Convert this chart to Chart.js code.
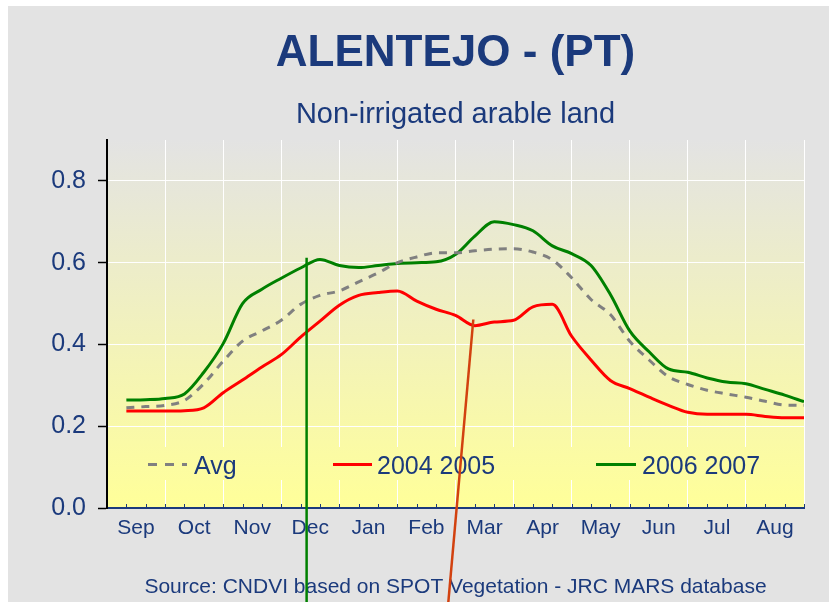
<!DOCTYPE html>
<html><head><meta charset="utf-8">
<script src="https://cdn.jsdelivr.net/npm/chart.js@4.4.1/dist/chart.umd.min.js"></script>
<style>html,body{margin:0;padding:0;background:#fff;}canvas{display:block;}</style>
</head><body>
<canvas id="c" width="829" height="602"></canvas>
<script>
// ---- data ----
const months = ['Sep','Oct','Nov','Dec','Jan','Feb','Mar','Apr','May','Jun','Jul','Aug'];
const dekads = [1,2,3,4,5,6,7,8,9,10,11,12,13,14,15,16,17,18,19,20,21,22,23,24,25,26,27,28,29,30,31,32,33,34,35,36];
const avg   = [0.245,0.248,0.251,0.263,0.304,0.359,0.408,0.433,0.459,0.498,0.520,0.531,0.553,0.575,0.600,0.614,0.624,0.624,
               0.629,0.633,0.634,0.626,0.607,0.563,0.510,0.473,0.408,0.362,0.321,0.302,0.288,0.279,0.271,0.261,0.252,0.251];
const y0405 = [0.237,0.237,0.237,0.238,0.245,0.282,0.313,0.345,0.375,0.418,0.457,0.496,0.520,0.527,0.531,0.506,0.486,0.471,
               0.446,0.455,0.459,0.492,0.498,0.420,0.362,0.312,0.292,0.271,0.251,0.234,0.229,0.229,0.229,0.224,0.221,0.221];
const y0607 = [0.264,0.265,0.268,0.279,0.332,0.402,0.500,0.535,0.562,0.587,0.608,0.593,0.588,0.593,0.598,0.600,0.602,0.620,
               0.665,0.700,0.693,0.678,0.641,0.622,0.593,0.522,0.433,0.382,0.340,0.332,0.318,0.308,0.304,0.290,0.276,0.260];
const seriesNames = ['Avg','2004 2005','2006 2007'];
const yTicks = [0,0.2,0.4,0.6,0.8];
const titleText = 'ALENTEJO - (PT)';
const subtitleText = 'Non-irrigated arable land';
const sourceText = 'Source: CNDVI based on SPOT Vegetation - JRC MARS database';
// hand-drawn marker lines (data units: dekad index, value)
const markerGreen = {x:10.31, y:0.612, xBottom:10.31};
const markerRed   = {x:18.92, y:0.461, xBottom:17.63};

// ---- style ----
const NAVY = '#1b3a7c';
const FONT = "'Liberation Sans', Arial, Helvetica, sans-serif";
const C_AVG = '#808080', C_RED = '#ff0000', C_GREEN = '#008000';

function pts(vals){ return vals.map((v,i)=>({x:dekads[i], y:v})); }

function plotGradient(ctx, a){
  const g = ctx.createLinearGradient(0, a.top, 0, a.bottom);
  g.addColorStop(0, '#e3e3e3');
  g.addColorStop(1, '#ffff99');
  return g;
}

const deco = {
  id: 'deco',
  beforeDraw(chart){
    const {ctx, chartArea:a, width, height} = chart;
    ctx.save();
    ctx.fillStyle = '#ffffff'; ctx.fillRect(0,0,width,height);
    ctx.fillStyle = '#e3e3e3'; ctx.fillRect(8,6,width-8,height-6);
    ctx.fillStyle = plotGradient(ctx,a);
    ctx.fillRect(a.left, a.top, a.right-a.left, a.bottom-a.top);
    const cx = (a.left + a.right)/2;
    ctx.fillStyle = NAVY; ctx.textAlign = 'center'; ctx.textBaseline = 'alphabetic';
    ctx.font = 'bold 44px ' + FONT; ctx.fillText(titleText, cx, 66);
    ctx.font = '29px ' + FONT; ctx.fillText(subtitleText, cx, 123);
    ctx.font = '21px ' + FONT; ctx.fillText(sourceText, cx, 593);
    ctx.restore();
  },
  afterDatasetsDraw(chart){
    const {ctx, chartArea:a} = chart;
    const xs = chart.scales.xd;
    ctx.save();
    // legend box inside plot
    const top = a.bottom - 61, bot = a.bottom - 28;
    ctx.fillStyle = plotGradient(ctx,a);
    ctx.fillRect(a.left+1, top, a.right-a.left-1, bot-top);
    const ly = a.bottom - 43.5;
    const items = [
      {name:seriesNames[0], color:C_AVG, dash:[9,8], x1:41, x2:80, tx:87},
      {name:seriesNames[1], color:C_RED, dash:[], x1:226, x2:265, tx:270},
      {name:seriesNames[2], color:C_GREEN, dash:[], x1:489, x2:529, tx:535}
    ];
    ctx.font = '25px ' + FONT; ctx.textAlign = 'left'; ctx.textBaseline = 'alphabetic';
    items.forEach(it=>{
      ctx.strokeStyle = it.color; ctx.lineWidth = 3; ctx.setLineDash(it.dash);
      ctx.beginPath(); ctx.moveTo(a.left+it.x1, ly); ctx.lineTo(a.left+it.x2, ly); ctx.stroke();
      ctx.setLineDash([]);
      ctx.fillStyle = NAVY; ctx.fillText(it.name, a.left+it.tx, a.bottom-34);
    });
    // minor dekad tick marks on x axis (inside)
    ctx.strokeStyle = NAVY; ctx.lineWidth = 1;
    dekads.forEach(d=>{
      const px = Math.round(xs.getPixelForValue(d)) + 0.5;
      ctx.beginPath(); ctx.moveTo(px, a.bottom); ctx.lineTo(px, a.bottom-4); ctx.stroke();
    });
    ctx.restore();
  },
  afterDraw(chart){
    const {ctx, height} = chart;
    const xs = chart.scales.xd, ys = chart.scales.y;
    ctx.save();
    ctx.lineWidth = 2.5;
    ctx.strokeStyle = C_GREEN;
    ctx.beginPath();
    ctx.moveTo(xs.getPixelForValue(markerGreen.x), ys.getPixelForValue(markerGreen.y));
    ctx.lineTo(xs.getPixelForValue(markerGreen.xBottom), height);
    ctx.stroke();
    ctx.strokeStyle = '#d2410f';
    ctx.beginPath();
    ctx.moveTo(xs.getPixelForValue(markerRed.x), ys.getPixelForValue(markerRed.y));
    ctx.lineTo(xs.getPixelForValue(markerRed.xBottom), height);
    ctx.stroke();
    ctx.restore();
  }
};

new Chart(document.getElementById('c'), {
  type: 'line',
  data: {
    labels: months,
    datasets: [
      {label: seriesNames[0], data: pts(avg), xAxisID:'xd', borderColor:C_AVG, borderWidth:3, borderDash:[8,7], pointRadius:0, cubicInterpolationMode:'monotone', fill:false},
      {label: seriesNames[1], data: pts(y0405), xAxisID:'xd', borderColor:C_RED, borderWidth:3, pointRadius:0, cubicInterpolationMode:'monotone', fill:false},
      {label: seriesNames[2], data: pts(y0607), xAxisID:'xd', borderColor:C_GREEN, borderWidth:3, pointRadius:0, cubicInterpolationMode:'monotone', fill:false}
    ]
  },
  options: {
    responsive: false,
    animation: false,
    devicePixelRatio: 1,
    layout: {padding: {top:140, right:25, left:0, bottom:0}},
    plugins: {legend:{display:false}, title:{display:false}, tooltip:{enabled:false}},
    scales: {
      x: {
        type: 'category',
        offset: true,
        position: 'bottom',
        grid: {offset:true, color: c => (c.index===0 ? 'rgba(0,0,0,0)' : '#ffffff'), lineWidth:1, drawTicks:false},
        border: {color: NAVY, width: 2},
        ticks: {color: NAVY, font:{family:FONT, size:21}, padding:8, maxRotation:0, autoSkip:false},
        afterFit: s => { s.height = 94; }
      },
      xd: {
        type: 'linear', min: 0, max: 36, display: false
      },
      y: {
        type: 'linear', min: 0, max: 0.9,
        afterBuildTicks: s => { s.ticks = yTicks.map(v=>({value:v})); },
        grid: {color: c => (c.tick && c.tick.value===0 ? 'rgba(0,0,0,0)' : '#ffffff'), lineWidth:1, tickColor:'#000000', tickLength:9, tickWidth:1.5},
        border: {color:'#000000', width:2},
        ticks: {color: NAVY, font:{family:FONT, size:25}, padding:12, callback: v => Number(v).toFixed(1)},
        afterFit: s => { s.width = 107; }
      }
    }
  },
  plugins: [deco]
});
</script>
</body></html>
